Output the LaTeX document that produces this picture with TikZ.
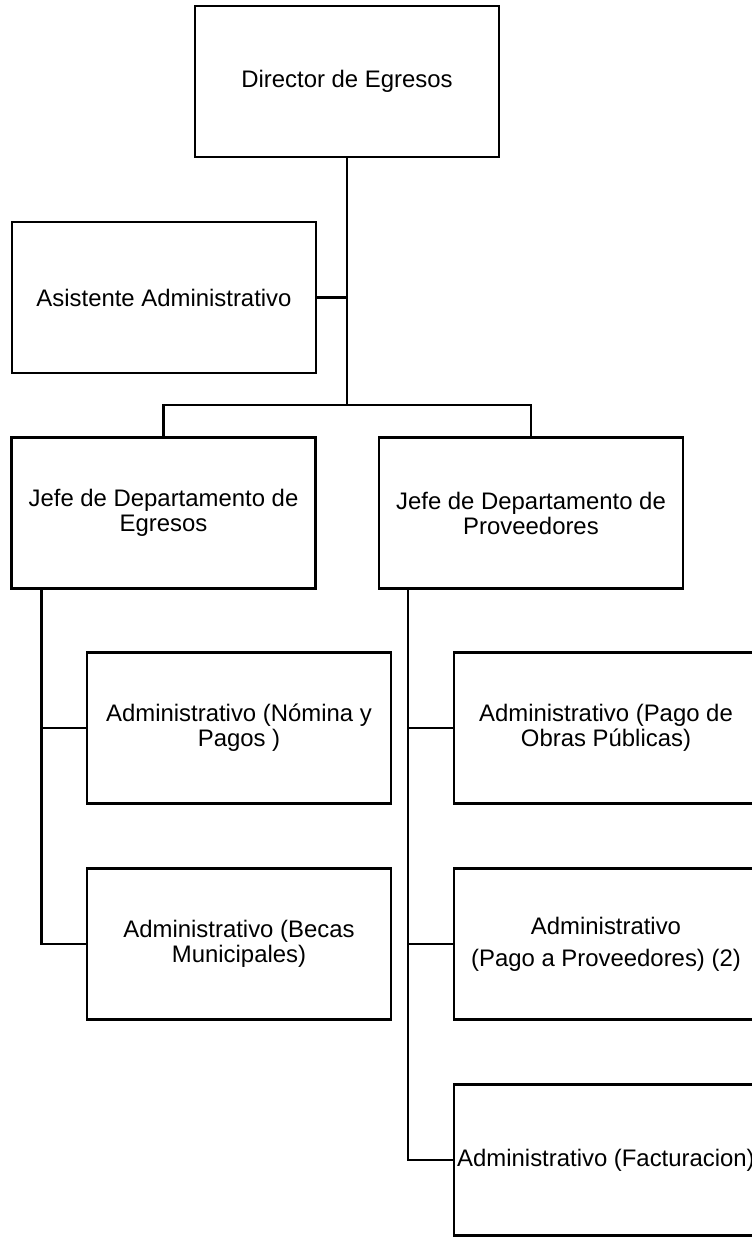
\documentclass[tikz,border=0pt]{standalone}
\usepackage{fontspec}
\setmainfont{Liberation Sans}
\begin{document}
\begin{tikzpicture}[x=1pt,y=-1pt,
  box/.style={draw, line width=2.5pt, minimum width=304pt, minimum height=151pt,
    inner sep=0pt, align=center, font=\fontsize{23.9}{25}\selectfont},
  link/.style={line width=2.5pt}]
\useasboundingbox (0,0) rectangle (752,1237);

% top levels
\node[box] (dir)   at (347,81.5)  {Director de Egresos};
\node[box] (asis)  at (164,297.5) {Asistente Administrativo};
\node[box] (jefeE) at (163.5,513) {Jefe de Departamento de\\Egresos};
\node[box] (jefeP) at (531,513)   {Jefe de Departamento de\\Proveedores};

% staff under each department head
\node[box] (nom)   at (239,728)  {Administrativo (Nómina y\\Pagos )};
\node[box] (becas) at (239,944)  {Administrativo (Becas\\Municipales)};
\node[box] (obras) at (606,728)  {Administrativo (Pago de\\Obras Públicas)};
\node[box] (prov)  at (606,944)  {Administrativo\\[7pt](Pago a Proveedores) (2)};
\node[box] (fact)  at (606,1160) {Administrativo (Facturacion)};

% connectors
\coordinate (split) at (347,405);
\coordinate (spineE) at ([xshift=31pt]jefeE.south west);
\coordinate (spineP) at ([xshift=30pt]jefeP.south west);

\draw[link] (dir.south) -- (split);
\draw[link] (asis.east) -- (asis.east -| dir.south);
\draw[link] (jefeE.north) |- (split) -| (jefeP.north);

\draw[link] (spineE) |- (becas.west);
\draw[link] (nom.west) -- (nom.west -| spineE);

\draw[link] (spineP) |- (fact.west);
\draw[link] (obras.west) -- (obras.west -| spineP);
\draw[link] (prov.west) -- (prov.west -| spineP);
\end{tikzpicture}
\end{document}
